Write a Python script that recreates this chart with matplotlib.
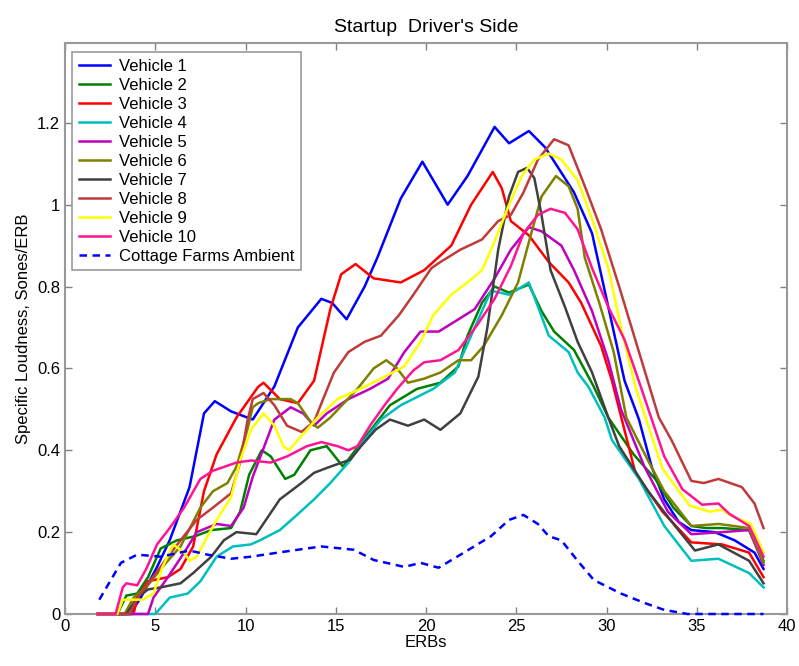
import matplotlib
matplotlib.use("Agg")
import matplotlib.pyplot as plt

plt.rcParams['font.family'] = ['Liberation Sans', 'DejaVu Sans']

# specific loudness readings, x in ERBs
v1_x = [1.8, 3.6, 4.2, 5.1, 5.8, 6.9, 7.7, 8.3, 9.2, 10.4, 11.6, 12.9, 14.2, 14.8, 15.6, 16.6, 17.3, 18.6, 19.8, 21.2,
        22.3, 23.8, 24.6, 25.7, 26.6, 28.2, 29.2, 30.1, 31.0, 31.8, 32.5, 33.2, 34.0, 34.7, 36.0, 37.1, 38.2, 38.7]
v1_y = [0, 0, 0.04, 0.115, 0.18, 0.31, 0.49, 0.52, 0.495, 0.475, 0.556, 0.70, 0.77, 0.76, 0.72, 0.80, 0.87, 1.015, 1.105, 1.0,
        1.07, 1.19, 1.15, 1.18, 1.14, 1.03, 0.93, 0.75, 0.57, 0.475, 0.36, 0.28, 0.225, 0.205, 0.20, 0.18, 0.15, 0.11]

v2_x = [1.8, 2.9, 3.4, 4.0, 4.6, 5.3, 6.2, 7.2, 8.1, 9.2, 9.7, 10.2, 10.9, 11.4, 12.2, 12.7, 13.6, 14.5, 15.4, 16.6,
        18.0, 19.5, 20.8, 21.8, 22.3, 23.1, 23.8, 24.6, 25.7, 26.4, 27.1, 28.2, 29.3, 30.1, 31.5, 32.7, 33.7, 34.7, 35.5, 36.4,
        37.9, 38.7]
v2_y = [0, 0, 0.045, 0.05, 0.09, 0.16, 0.18, 0.19, 0.205, 0.21, 0.25, 0.34, 0.40, 0.385, 0.33, 0.34, 0.40, 0.41, 0.36, 0.43,
        0.51, 0.55, 0.565, 0.605, 0.68, 0.76, 0.80, 0.785, 0.805, 0.74, 0.69, 0.645, 0.555, 0.48, 0.39, 0.33, 0.26, 0.215, 0.21, 0.21,
        0.205, 0.13]

v3_x = [1.8, 3.8, 4.0, 4.6, 5.7, 6.4, 7.1, 7.7, 8.4, 9.5, 10.7, 11.0, 11.9, 12.9, 13.8, 14.7, 15.3, 16.1, 17.1, 18.6,
        19.9, 21.4, 22.5, 23.7, 24.2, 24.7, 25.7, 26.8, 27.9, 28.6, 29.7, 30.3, 31.6, 33.1, 34.7, 36.4, 37.9, 38.7]
v3_y = [0, 0, 0.04, 0.08, 0.09, 0.11, 0.165, 0.30, 0.39, 0.48, 0.555, 0.565, 0.525, 0.515, 0.57, 0.745, 0.83, 0.855, 0.82, 0.81,
        0.84, 0.90, 1.0, 1.08, 1.04, 0.96, 0.925, 0.86, 0.81, 0.76, 0.655, 0.57, 0.345, 0.25, 0.175, 0.17, 0.15, 0.09]

v4_x = [1.8, 5.0, 5.8, 6.8, 7.5, 8.4, 9.3, 10.3, 10.8, 11.9, 12.8, 13.8, 14.7, 15.7, 16.6, 17.5, 18.6, 20.4, 21.6, 22.3,
        23.6, 24.6, 25.7, 26.8, 27.9, 28.4, 29.0, 29.9, 30.3, 31.8, 33.2, 34.7, 36.2, 37.9, 38.7]
v4_y = [0, 0, 0.04, 0.05, 0.08, 0.14, 0.165, 0.17, 0.18, 0.205, 0.24, 0.28, 0.32, 0.37, 0.425, 0.475, 0.51, 0.55, 0.59, 0.66,
        0.79, 0.78, 0.81, 0.68, 0.64, 0.59, 0.555, 0.48, 0.425, 0.33, 0.215, 0.13, 0.135, 0.10, 0.065]

v5_x = [1.8, 4.6, 4.9, 5.7, 6.6, 7.3, 8.4, 9.2, 9.9, 10.4, 11.6, 12.5, 13.2, 13.8, 14.5, 15.7, 16.9, 17.9, 18.8, 19.7,
        20.7, 21.8, 22.7, 23.8, 24.7, 25.7, 26.4, 27.5, 28.2, 29.2, 30.1, 30.8, 32.1, 33.4, 34.7, 36.4, 37.9, 38.7]
v5_y = [0, 0, 0.04, 0.09, 0.15, 0.20, 0.22, 0.215, 0.26, 0.335, 0.475, 0.505, 0.49, 0.46, 0.49, 0.525, 0.55, 0.575, 0.64, 0.69,
        0.69, 0.72, 0.745, 0.82, 0.89, 0.945, 0.935, 0.90, 0.84, 0.74, 0.62, 0.50, 0.36, 0.25, 0.195, 0.20, 0.205, 0.12]

v6_x = [1.8, 3.3, 3.8, 4.5, 5.4, 6.4, 7.5, 8.2, 9.0, 9.5, 10.1, 10.4, 10.7, 11.4, 12.5, 12.9, 13.6, 14.0, 14.7, 16.2,
        17.1, 17.8, 18.4, 19.0, 19.9, 20.8, 21.8, 22.5, 23.2, 24.2, 25.1, 25.8, 26.4, 27.2, 27.9, 28.4, 28.8, 29.6, 30.4, 31.1,
        32.3, 33.2, 34.7, 36.2, 37.9, 38.7]
v6_y = [0, 0, 0.04, 0.065, 0.115, 0.165, 0.26, 0.30, 0.32, 0.36, 0.45, 0.505, 0.515, 0.525, 0.525, 0.515, 0.47, 0.455, 0.48, 0.55,
        0.60, 0.62, 0.60, 0.565, 0.575, 0.59, 0.62, 0.62, 0.655, 0.73, 0.81, 0.925, 1.02, 1.07, 1.045, 0.99, 0.87, 0.76, 0.64, 0.48,
        0.375, 0.30, 0.215, 0.22, 0.21, 0.125]

v7_x = [1.8, 3.4, 4.0, 4.6, 5.3, 6.4, 7.1, 8.1, 8.8, 9.5, 10.6, 11.9, 13.1, 13.8, 14.7, 15.8, 16.4, 17.2, 18.0, 19.0,
        19.9, 20.8, 21.9, 22.9, 23.4, 24.0, 24.6, 25.1, 25.6, 26.0, 26.4, 26.9, 27.7, 28.4, 29.2, 30.1, 30.7, 32.3, 33.8, 34.9,
        36.2, 37.9, 38.7]
v7_y = [0, 0, 0.04, 0.06, 0.065, 0.075, 0.10, 0.14, 0.18, 0.20, 0.195, 0.28, 0.32, 0.345, 0.36, 0.377, 0.41, 0.45, 0.475, 0.46,
        0.475, 0.45, 0.49, 0.58, 0.70, 0.89, 1.02, 1.08, 1.09, 1.065, 0.975, 0.84, 0.75, 0.665, 0.59, 0.48, 0.41, 0.30, 0.215, 0.155,
        0.17, 0.13, 0.075]

v8_x = [1.8, 3.6, 4.0, 4.7, 5.7, 6.4, 7.3, 8.2, 9.2, 9.7, 10.1, 10.4, 11.0, 11.6, 12.3, 13.1, 13.8, 14.3, 14.9, 15.7,
        16.6, 17.5, 18.5, 19.3, 20.3, 20.8, 21.9, 23.1, 24.0, 24.7, 25.4, 26.2, 27.1, 27.9, 28.8, 29.7, 30.7, 31.8, 32.9, 33.6,
        34.7, 35.4, 36.2, 37.5, 38.2, 38.7]
v8_y = [0, 0, 0.04, 0.08, 0.14, 0.18, 0.23, 0.26, 0.295, 0.37, 0.47, 0.525, 0.54, 0.51, 0.46, 0.445, 0.47, 0.525, 0.59, 0.64,
        0.665, 0.68, 0.73, 0.78, 0.845, 0.86, 0.89, 0.915, 0.96, 0.975, 1.03, 1.11, 1.16, 1.145, 1.045, 0.94, 0.80, 0.64, 0.48, 0.425,
        0.325, 0.32, 0.33, 0.31, 0.27, 0.21]

v9_x = [1.8, 2.9, 3.2, 4.3, 4.9, 5.4, 6.0, 6.6, 6.9, 7.3, 7.9, 8.4, 9.2, 9.7, 10.3, 11.0, 11.6, 12.1, 12.4, 13.1,
        14.0, 15.1, 16.6, 17.5, 18.8, 19.7, 20.4, 21.4, 22.3, 23.1, 23.8, 24.6, 25.3, 26.0, 26.8, 27.5, 28.4, 29.2, 30.1, 30.8,
        31.6, 33.1, 34.6, 35.7, 36.4, 36.9, 38.0, 38.7]
v9_y = [0, 0, 0.035, 0.035, 0.05, 0.115, 0.17, 0.15, 0.13, 0.14, 0.19, 0.23, 0.285, 0.375, 0.45, 0.49, 0.46, 0.41, 0.40, 0.435,
        0.48, 0.525, 0.555, 0.575, 0.605, 0.665, 0.73, 0.78, 0.81, 0.84, 0.91, 1.0, 1.07, 1.11, 1.125, 1.11, 1.06, 0.965, 0.845, 0.70,
        0.555, 0.355, 0.265, 0.25, 0.255, 0.24, 0.22, 0.15]

v10_x = [1.8, 2.8, 3.2, 3.4, 4.0, 4.5, 5.1, 5.8, 6.6, 7.5, 8.2, 9.5, 10.3, 11.4, 12.3, 13.4, 14.2, 15.1, 15.7, 16.2,
         16.9, 17.7, 18.4, 19.3, 19.9, 20.8, 21.8, 22.9, 23.8, 24.7, 25.4, 26.2, 26.9, 27.7, 28.4, 29.2, 30.1, 31.0, 31.9, 33.2,
         34.2, 35.3, 36.2, 36.8, 37.9, 38.7]
v10_y = [0, 0, 0.065, 0.075, 0.07, 0.11, 0.17, 0.21, 0.26, 0.33, 0.35, 0.37, 0.375, 0.37, 0.385, 0.41, 0.42, 0.41, 0.40, 0.41,
         0.46, 0.51, 0.55, 0.595, 0.615, 0.62, 0.645, 0.71, 0.77, 0.85, 0.93, 0.975, 0.99, 0.98, 0.94, 0.845, 0.75, 0.67, 0.555, 0.385,
         0.305, 0.267, 0.27, 0.245, 0.215, 0.14]

amb_x = [1.9, 2.5, 3.1, 4.0, 5.3, 6.9, 7.9, 9.2, 10.3, 11.8, 12.9, 14.2, 16.0, 17.1, 18.8, 19.7, 20.7, 22.1, 23.6, 24.6,
         25.4, 26.2, 26.8, 27.5, 28.4, 29.3, 30.8, 32.1, 33.2, 34.5, 38.7]
amb_y = [0.035, 0.08, 0.125, 0.145, 0.14, 0.155, 0.145, 0.135, 0.14, 0.15, 0.157, 0.165, 0.157, 0.132, 0.115, 0.125, 0.113, 0.15, 0.19, 0.23,
         0.242, 0.22, 0.19, 0.18, 0.13, 0.083, 0.05, 0.027, 0.01, 0.0, 0.0]

labels = ['Vehicle %d' % i for i in range(1, 11)]
colors = ['#0000ff', '#008000', '#ff0000', '#00bfbf', '#bf00bf',
          '#808000', '#404040', '#bf3b3b', '#ffff00', '#ff1493']
xs = [v1_x, v2_x, v3_x, v4_x, v5_x, v6_x, v7_x, v8_x, v9_x, v10_x]
ys = [v1_y, v2_y, v3_y, v4_y, v5_y, v6_y, v7_y, v8_y, v9_y, v10_y]

fig = plt.figure(figsize=(7.99, 6.66), dpi=100)
ax = fig.add_axes([65 / 799, 52 / 666, 722 / 799, 571 / 666])

for x, y, c, lab in zip(xs, ys, colors, labels):
    ax.plot(x, y, '-', color=c, linewidth=1.8, label=lab, clip_on=False, zorder=3)
ax.plot(amb_x, amb_y, '--', color='#0000ff', linewidth=1.8, dashes=(3, 2.2),
        label='Cottage Farms Ambient', clip_on=False, zorder=3)

ax.set_xlim(0, 40)
ax.set_ylim(0, 1.395)
ax.set_xticks(range(0, 41, 5))
ax.set_yticks([0, 0.2, 0.4, 0.6, 0.8, 1.0, 1.2])
ax.set_yticklabels(['0', '0.2', '0.4', '0.6', '0.8', '1', '1.2'])
ax.tick_params(direction='in', top=True, right=True, length=5, width=1, colors='#808080',
               labelcolor='black', labelsize=12)
for s in ax.spines.values():
    s.set_color('#999999')
    s.set_linewidth(1.5)

ax.set_title("Startup  Driver's Side", fontsize=14, pad=8)
ax.set_xlabel('ERBs', fontsize=12, labelpad=1)
ax.set_ylabel('Specific Loudness, Sones/ERB', fontsize=12, labelpad=4)

leg = ax.legend(loc='upper left', bbox_to_anchor=(0.0097, 0.984), borderaxespad=0,
                fontsize=12, fancybox=False, framealpha=1, edgecolor='#999999',
                handlelength=1.85, labelspacing=0.24, borderpad=0.4, handletextpad=0.55)
leg.get_frame().set_linewidth(1.2)
leg.set_zorder(5)

fig.savefig('out.png', dpi=100)
